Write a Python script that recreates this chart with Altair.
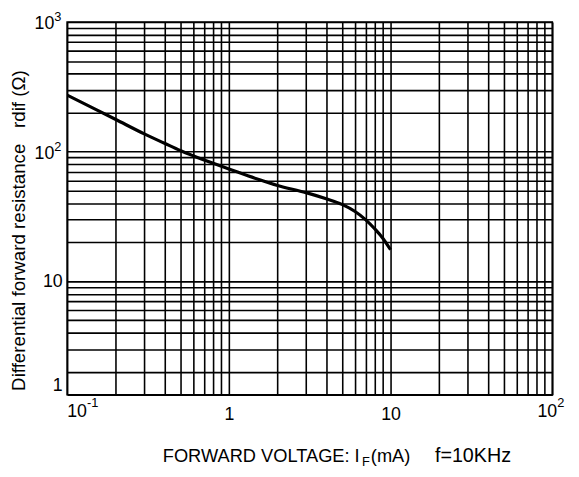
import altair as alt
import pandas as pd

# Curve: forward current (mA) vs differential forward resistance (ohm)
current_ma = [0.1, 0.15, 0.2, 0.3, 0.4, 0.5, 0.6, 0.8, 1, 1.5, 2, 3, 4, 5, 6, 7, 8, 9, 10]
rdif_ohm = [273, 212, 177, 137, 116, 102, 93, 81.3, 73.6, 61.5, 54.8, 48.3, 43.3, 39.2, 34.7, 29.9, 25.3, 21.3, 17.5]

# Axis extents as drawn in the reference (its bottom edge, labelled "1", sits near 1.33)
x_domain = [0.1, 100]
y_domain = [1.33, 1000]

# Grid positions (log decades with 1..9 multiples)
x_grid = [0.1, 0.2, 0.3, 0.4, 0.5, 0.6, 0.7, 0.8, 0.9,
          1, 2, 3, 4, 5, 6, 7, 8, 9,
          10, 20, 30, 40, 50, 60, 70, 80, 90, 100]
y_grid = [1.33, 2, 3, 4, 5, 6, 7, 8, 9,
          10, 20, 30, 40, 50, 60, 70, 80, 90,
          100, 200, 300, 400, 500, 600, 700, 800, 900, 1000]

# Plain tick labels (drawn by the axes)
x_plain_values = [1, 10]
x_plain_texts = ["1", "10"]
y_plain_values = [1.33, 10]
y_plain_texts = ["1", "10"]

# Power-of-ten tick labels: base "10" with a raised exponent
x_pow_left_value = [0.1]
x_pow_left_exp = ["-1"]
x_pow_right_value = [100]
x_pow_right_exp = ["2"]
y_pow_values = [100, 1000]
y_pow_exps = ["2", "3"]

FONT = "Liberation Sans"


def label_expr(values, texts):
    expr = "''"
    for v, t in reversed(list(zip(values, texts))):
        expr = f"datum.value == {v} ? '{t}' : ({expr})"
    return expr


x_scale = alt.Scale(type="log", domain=x_domain, nice=False)
y_scale = alt.Scale(type="log", domain=y_domain, nice=False)

df = pd.DataFrame({"current": current_ma, "rdif": rdif_ohm})

x_enc = alt.X(
    "current:Q",
    scale=x_scale,
    axis=alt.Axis(
        values=x_grid,
        labelExpr=label_expr(x_plain_values, x_plain_texts),
        ticks=False, domain=False, grid=True,
        gridColor="black", gridWidth=1.6, gridOpacity=1,
        labelFont=FONT, labelFontSize=18, labelColor="black",
        labelPadding=11, labelFlush=False, labelOverlap=False,
        title=None,
    ),
)
y_enc = alt.Y(
    "rdif:Q",
    scale=y_scale,
    axis=alt.Axis(
        values=y_grid,
        labelExpr=label_expr(y_plain_values, y_plain_texts),
        ticks=False, domain=False, grid=True,
        gridColor="black", gridWidth=1.6, gridOpacity=1,
        labelFont=FONT, labelFontSize=18, labelColor="black",
        labelPadding=5, labelOverlap=False,
        labelBaseline={"condition": {"test": "datum.value == 1.33", "value": "bottom"}, "value": "middle"},
        title="Differential forward resistance\u00a0\u00a0\u00a0rdif (Ω)",
        titleFont=FONT, titleFontSize=19, titleFontWeight="normal", titleColor="black",
        titleAngle=270, titleAlign="center", titleBaseline="middle",
        titleX=-49, titleY=211,
    ),
)

curve = alt.Chart(df).mark_line(
    color="black", strokeWidth=3.2, interpolate="monotone", clip=True
).encode(x=x_enc, y=y_enc)

# x-axis power labels
xl = pd.DataFrame({"v": x_pow_left_value, "e": x_pow_left_exp})
xr = pd.DataFrame({"v": x_pow_right_value, "e": x_pow_right_exp})
x_left_base = alt.Chart(xl).mark_text(
    text="10", font=FONT, fontSize=18, color="black", align="left", baseline="alphabetic"
).encode(x=alt.X("v:Q", scale=x_scale), y=alt.value(401))
x_left_exp = alt.Chart(xl).mark_text(
    font=FONT, fontSize=13, color="black", align="left", baseline="alphabetic", dx=20
).encode(x=alt.X("v:Q", scale=x_scale), y=alt.value(390), text="e:N")
x_right_base = alt.Chart(xr).mark_text(
    text="10", font=FONT, fontSize=18, color="black", align="right", baseline="alphabetic", dx=5
).encode(x=alt.X("v:Q", scale=x_scale), y=alt.value(401))
x_right_exp = alt.Chart(xr).mark_text(
    font=FONT, fontSize=13, color="black", align="left", baseline="alphabetic", dx=5
).encode(x=alt.X("v:Q", scale=x_scale), y=alt.value(390), text="e:N")

# y-axis power labels
yp = pd.DataFrame({"v": y_pow_values, "e": y_pow_exps})
y_base = alt.Chart(yp).mark_text(
    text="10", font=FONT, fontSize=18, color="black", align="right", baseline="middle", dy=2
).encode(y=alt.Y("v:Q", scale=y_scale), x=alt.value(-13))
y_exp = alt.Chart(yp).mark_text(
    font=FONT, fontSize=13, color="black", align="left", baseline="middle", dy=-5
).encode(y=alt.Y("v:Q", scale=y_scale), x=alt.value(-13), text="e:N")

# x-axis title pieces (with subscript F) and frequency note
title_main = alt.Chart().mark_text(
    text="FORWARD VOLTAGE: I", font=FONT, fontSize=18.5, color="black",
    align="left", baseline="alphabetic"
).encode(x=alt.value(97), y=alt.value(446))
title_sub = alt.Chart().mark_text(
    text="F", font=FONT, fontSize=13, color="black",
    align="left", baseline="alphabetic"
).encode(x=alt.value(299), y=alt.value(450))
title_unit = alt.Chart().mark_text(
    text="(mA)", font=FONT, fontSize=18.5, color="black",
    align="left", baseline="alphabetic"
).encode(x=alt.value(308), y=alt.value(446))
title_freq = alt.Chart().mark_text(
    text="f=10KHz", font=FONT, fontSize=20, color="black",
    align="left", baseline="alphabetic"
).encode(x=alt.value(373), y=alt.value(446))

chart = alt.layer(
    curve, x_left_base, x_left_exp, x_right_base, x_right_exp, y_base, y_exp,
    title_main, title_sub, title_unit, title_freq
).resolve_scale(x="shared", y="shared").properties(
    width=492,
    height=378,
    padding={"left": 60, "top": 11, "right": 19, "bottom": 72},
    autosize=alt.AutoSizeParams(type="none"),
    background="white",
).configure_view(stroke="black", strokeWidth=1.7)

chart.save("out.html", embed_options={"renderer": "svg", "actions": False})
